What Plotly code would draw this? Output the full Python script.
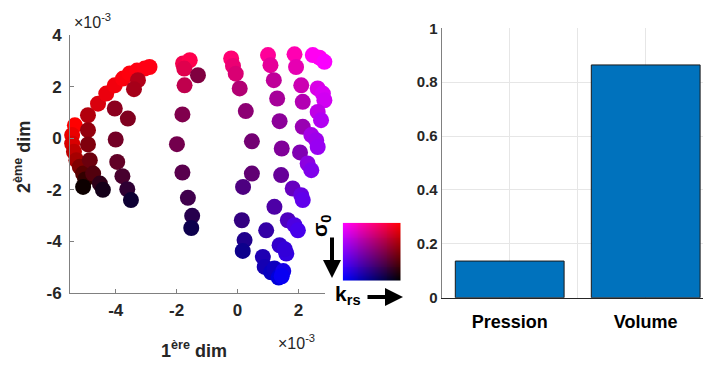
import numpy as np
import plotly.graph_objects as go

# ---------------- data (x, y in units of 1e-3) ----------------
pts_x = [-5.34, -5.43, -5.43, -5.37, -5.29, -5.18, -5.07, -5.00, -5.07,
         -4.91, -4.91, -4.91, -4.85, -4.74, -4.52, -4.42,
         -4.58, -4.31, -4.03, -3.76, -3.54, -3.30, -3.05, -2.89,
         -3.27, -3.40,
         -4.03, -3.60, -4.00, -3.95, -3.78, -3.62, -3.50,
         -1.79, -1.57, -1.75, -1.30, -1.74, -1.81, -1.99, -1.81, -1.63, -1.49, -1.52,
         -0.21, -0.15, -0.06, 0.07, 0.27, 0.47, 0.47, 0.18, 0.14, 0.23, 0.17,
         1.00, 1.08, 1.19, 1.30, 1.38, 1.45, 1.43, 1.21, 0.94, 0.83, 0.89, 1.10, 1.21, 1.43, 1.35,
         1.87, 1.92, 2.09, 2.14, 2.14, 2.05, 1.81, 1.65, 1.38,
         2.47, 2.69, 2.85, 2.91, 2.96, 2.63, 2.80, 2.85, 2.63, 2.74, 2.42, 2.58, 2.63,
         2.30, 2.42, 2.09, 2.14, 1.87, 1.98, 1.60, 1.55, 1.50, 1.45]
pts_y = [0.50, 0.12, -0.21, -0.53, -0.85, -1.11, -1.37, -1.60, -1.89,
         0.89, 0.31, -0.24, -0.85, -1.37, -1.76, -2.00,
         1.34, 1.73, 2.05, 2.31, 2.51, 2.62, 2.70, 2.76,
         2.25, 1.90,
         1.15, 0.76, -0.05, -0.92, -1.47, -1.98, -2.40,
         2.90, 3.02, 2.70, 2.44, 2.05, 0.92, -0.23, -1.33, -2.31, -3.01, -3.48,
         3.09, 2.80, 2.50, 1.93, 1.05, -0.12, -1.37, -1.89, -3.18, -3.95, -4.37,
         3.22, 2.83, 2.25, 1.54, 0.66, -0.40, -1.43, -2.66, -3.57, -4.60, -4.99, -5.20, -5.05, -5.24, -5.40,
         3.25, 2.76, 2.05, 1.41, 0.44, -0.55, -1.95, -3.18, -4.15,
         3.22, 3.12, 2.96, 2.64, 2.25, 1.93, 1.73, 1.47, 1.02, 0.70, 0.12, -0.08, -0.34,
         -0.98, -1.24, -2.21, -2.40, -3.37, -3.57, -4.47, -4.30, -5.15, -5.35]
# colour parameters: k_rs (normalised) and sigma_0 (normalised)
pts_k = [1.0, 1.0, 1.0, 1.0, 1.0, 1.0, 1.0, 1.0, 1.0,
         0.95, 0.95, 0.95, 0.95, 0.95, 0.9, 0.9,
         0.95, 0.95, 0.95, 0.95, 0.95, 0.93, 0.92, 0.92,
         0.9, 0.9,
         0.88, 0.88, 0.85, 0.85, 0.82, 0.8, 0.8,
         0.7, 0.7, 0.7, 0.75, 0.7, 0.7, 0.7, 0.7, 0.7, 0.7, 0.7,
         0.55, 0.55, 0.55, 0.55, 0.55, 0.55, 0.55, 0.5, 0.5, 0.45, 0.45,
         0.4, 0.4, 0.4, 0.4, 0.4, 0.4, 0.4, 0.35, 0.35, 0.3, 0.3, 0.25, 0.25, 0.2, 0.15,
         0.3, 0.3, 0.3, 0.3, 0.3, 0.3, 0.25, 0.25, 0.2,
         0.05, 0.05, 0.0, 0.0, 0.0, 0.1, 0.05, 0.05, 0.1, 0.05, 0.1, 0.08, 0.05,
         0.12, 0.08, 0.12, 0.08, 0.12, 0.08, 0.12, 0.15, 0.1, 0.05]
pts_s = [0.0, 0.08, 0.15, 0.25, 0.35, 0.5, 0.65, 0.8, 0.95,
         0.3, 0.42, 0.5, 0.58, 0.68, 0.82, 0.92,
         0.15, 0.08, 0.05, 0.02, 0.0, 0.0, 0.0, 0.0,
         0.3, 0.35,
         0.45, 0.5, 0.55, 0.62, 0.72, 0.82, 0.95,
         0.05, 0.0, 0.12, 0.5, 0.25, 0.5, 0.55, 0.65, 0.75, 0.85, 0.95,
         0.0, 0.08, 0.15, 0.3, 0.45, 0.55, 0.62, 0.7, 0.8, 0.88, 0.95,
         0.0, 0.1, 0.25, 0.35, 0.45, 0.5, 0.6, 0.7, 0.8, 0.88, 0.92, 0.97, 0.95, 0.97, 1.0,
         0.0, 0.1, 0.2, 0.3, 0.4, 0.5, 0.6, 0.7, 0.8,
         0.0, 0.0, 0.02, 0.05, 0.08, 0.15, 0.15, 0.18, 0.25, 0.3, 0.35, 0.38, 0.4,
         0.45, 0.5, 0.6, 0.62, 0.7, 0.72, 0.8, 0.8, 0.92, 0.97]

scatter_xticks = [-4, -2, 0, 2]
scatter_xticklabels = ["-4", "-2", "0", "2"]
scatter_yticks = [-6, -4, -2, 0, 2, 4]
scatter_yticklabels = ["-6", "-4", "-2", "0", "2", "4"]

categories = ["Pression", "Volume"]
bar_values = [0.136, 0.864]
bar_yticks = [0, 0.2, 0.4, 0.6, 0.8, 1]
bar_yticklabels = ["0", "0.2", "0.4", "0.6", "0.8", "1"]


def cmap2d(k, s):
    """2-D colour map: sigma_0 removes red, k_rs removes blue."""
    return (int(round(255 * (1 - s))), 0, int(round(255 * (1 - k))))


colors = ["rgb(%d,%d,%d)" % cmap2d(k, s) for k, s in zip(pts_k, pts_s)]

W, H = 703, 365


def px(x):
    return x / W


def py(y):
    return 1 - y / H


FONT = "Arial, Liberation Sans, sans-serif"
fig = go.Figure()

fig.add_trace(go.Scatter(
    x=pts_x, y=pts_y, mode="markers", cliponaxis=False,
    marker=dict(size=16, color=colors, line=dict(width=0), opacity=1),
    xaxis="x", yaxis="y", showlegend=False, hoverinfo="skip"))

bar_pos = [i + 1 for i in range(len(categories))]
fig.add_trace(go.Bar(
    x=bar_pos, y=bar_values, width=0.8,
    marker=dict(color="#0072BD", line=dict(color="#1a1a1a", width=1)),
    xaxis="x2", yaxis="y2", showlegend=False))

# colour key image built from the same 2-D map
N = 60
grid = np.linspace(0, 1, N)
img = np.array([[cmap2d(k, s) for k in grid] for s in grid], dtype=np.uint8)
fig.add_trace(go.Image(z=img, xaxis="x3", yaxis="y3", hoverinfo="skip"))

tick_font = dict(family=FONT, size=17, color="#262626", weight="bold")
common = dict(automargin=False, zeroline=False)
fig.update_layout(
    width=W, height=H, autosize=False,
    margin=dict(l=0, r=0, t=0, b=0, pad=0, autoexpand=False),
    paper_bgcolor="white", plot_bgcolor="white",
    xaxis=dict(domain=[px(70), px(325)], range=[-5.5, 2.87],
               tickvals=scatter_xticks, ticktext=scatter_xticklabels,
               tickfont=tick_font, showline=True, linecolor="#808080", linewidth=1,
               ticks="inside", ticklen=4, tickcolor="#808080", ticklabelstandoff=2,
               showgrid=False, anchor="y", **common),
    yaxis=dict(domain=[1 - 293 / H, 1 - 35 / H], range=[-6, 4],
               tickvals=scatter_yticks, ticktext=scatter_yticklabels,
               tickfont=tick_font, showline=True, linecolor="#808080", linewidth=1,
               ticks="inside", ticklen=4, tickcolor="#808080", ticklabelstandoff=4,
               showgrid=False, anchor="x", **common),
    xaxis2=dict(domain=[px(441.7), 1.0], range=[0.5, 0.5 + (W - 441.7) / 136.0],
                tickvals=[1, 1.5, 2], ticktext=[categories[0], "", categories[1]],
                tickfont=dict(family=FONT, size=18, color="black", weight="bold"),
                showline=True, linecolor="#262626", linewidth=1,
                showgrid=True, gridcolor="#e6e6e6", ticklabelstandoff=8,
                ticks="", anchor="y2", **common),
    yaxis2=dict(domain=[1 - 297.7 / H, 1 - 28.3 / H], range=[0, 1],
                tickvals=bar_yticks, ticktext=bar_yticklabels,
                tickfont=dict(family=FONT, size=15, color="#262626", weight="bold"),
                showline=True, linecolor="#808080", linewidth=1,
                showgrid=True, gridcolor="#e6e6e6",
                ticks="", anchor="x2", **common),
    xaxis3=dict(domain=[px(342.7), px(400.7)], range=[-0.5, N - 0.5],
                visible=False, anchor="y3", constrain="range", **common),
    yaxis3=dict(domain=[1 - 280.7 / H, 1 - 222.7 / H], range=[N - 0.5, -0.5],
                visible=False, anchor="x3", constrain="range", **common),
)

ann = []
ann.append(dict(text="×10<sup>-3</sup>", x=px(72), y=py(21), xanchor="left", yanchor="middle",
                font=dict(family=FONT, size=16, color="#262626")))
ann.append(dict(text="×10<sup>-3</sup>", x=px(296), y=py(342), xanchor="center", yanchor="middle",
                font=dict(family=FONT, size=16, color="#262626")))
ann.append(dict(text="<b>1<sup>ère</sup> dim</b>", x=px(194), y=py(349), xanchor="center", yanchor="middle",
                font=dict(family=FONT, size=18, color="#262626")))
ann.append(dict(text="<b>2<sup>ème</sup> dim</b>", x=px(22), y=py(157), xanchor="center", yanchor="middle",
                textangle=-90, font=dict(family=FONT, size=18, color="#262626")))
ann.append(dict(text="<b>σ<sub>0</sub></b>", x=px(321), y=py(226), xanchor="center", yanchor="middle",
                textangle=-90, font=dict(family=FONT, size=21, color="black")))
ann.append(dict(text="<b>k<sub>rs</sub></b>", x=px(348), y=py(295), xanchor="center", yanchor="middle",
                font=dict(family=FONT, size=21, color="black")))
for a in ann:
    a.update(xref="paper", yref="paper", showarrow=False)
# arrows
ann.append(dict(text="", x=px(332), y=py(278), ax=0, ay=-42, xref="paper", yref="paper",
                showarrow=True, arrowhead=2, arrowsize=0.9, arrowwidth=4, arrowcolor="black"))
ann.append(dict(text="", x=px(403), y=py(297), ax=-37, ay=0, xref="paper", yref="paper",
                showarrow=True, arrowhead=2, arrowsize=0.9, arrowwidth=4, arrowcolor="black"))
fig.update_layout(annotations=ann)

fig.write_html("out.html", config={"displayModeBar": False},
               post_script="document.body.style.margin='0';document.body.style.padding='0';"
                           "document.documentElement.style.overflow='hidden';")
